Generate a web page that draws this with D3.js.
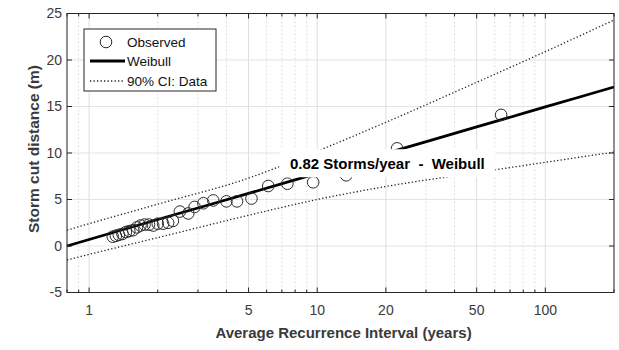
<!DOCTYPE html>
<html><head><meta charset="utf-8">
<script src="https://cdn.jsdelivr.net/npm/d3@7"></script>
<style>
html,body{margin:0;padding:0;background:#fff;}
svg{display:block;font-family:"Liberation Sans",Arial,sans-serif;}
</style></head>
<body><svg id="c" width="619" height="350"></svg>
<script>
// ---- data ----
const observedT = [64, 22.4, 13.4, 9.6, 7.4, 6.1, 5.15, 4.45, 4.0, 3.5, 3.17, 2.9, 2.72, 2.5, 2.33, 2.22, 2.11, 2.0, 1.91, 1.83, 1.75, 1.68, 1.62, 1.56, 1.50, 1.45, 1.40, 1.35, 1.31, 1.27];
const observedY = [14.1, 10.5, 7.6, 6.85, 6.7, 6.45, 5.1, 4.8, 4.8, 4.9, 4.6, 4.2, 3.5, 3.7, 2.7, 2.5, 2.4, 2.4, 2.2, 2.3, 2.3, 2.2, 2.0, 1.7, 1.6, 1.5, 1.3, 1.2, 1.1, 1.0];
const curveT = [0.8, 1, 2, 5, 10, 20, 50, 100, 200];
const weibullY = [0.0, 0.7, 2.85, 5.65, 7.8, 9.95, 12.8, 14.95, 17.1];
const ciUpperY = [1.7, 2.4, 4.5, 7.3, 10.2, 13.3, 17.6, 20.9, 24.3];
const ciLowerY = [-1.5, -0.9, 0.9, 3.3, 5.0, 6.4, 7.9, 9.0, 10.1];
const xTickLabels = [1, 5, 10, 20, 50, 100];
const xMinorTicks = [0.8, 0.9, 2, 3, 4, 6, 7, 8, 9, 30, 40, 60, 70, 80, 90, 200];
const yTicks = [-5, 0, 5, 10, 15, 20, 25];
const legendLabels = ["Observed", "Weibull", "90% CI: Data"];
const annotationText = "0.82 Storms/year  -  Weibull";
const xTitle = "Average Recurrence Interval (years)";
const yTitle = "Storm cut distance (m)";

// ---- layout ----
const L = 67, R = 614, T = 13.5, B = 292.5;
const svg = d3.select("#c");
const x = d3.scaleLog().domain([0.8, 200]).range([L, R]);
const y = d3.scaleLinear().domain([-5, 25]).range([B, T]);
const axisColor = "#262626";
const labelColor = "#3a3a3a";

// grid
const g = svg.append("g");
g.selectAll(".ygrid").data(yTicks).join("line")
  .attr("x1", L).attr("x2", R).attr("y1", d => y(d)).attr("y2", d => y(d))
  .attr("stroke", "#e3e3e3").attr("stroke-width", 1);
g.selectAll(".xminor").data(xMinorTicks).join("line")
  .attr("x1", d => x(d)).attr("x2", d => x(d)).attr("y1", T).attr("y2", B)
  .attr("stroke", "#e0e0e0").attr("stroke-width", 1).attr("stroke-dasharray", "2,2");
g.selectAll(".xmajor").data(xTickLabels).join("line")
  .attr("x1", d => x(d)).attr("x2", d => x(d)).attr("y1", T).attr("y2", B)
  .attr("stroke", "#dedede").attr("stroke-width", 1);

// CI lines & fit
const pts = ys => curveT.map((t, i) => [t, ys[i]]);
const line = d3.line().x(d => x(d[0])).y(d => y(d[1])).curve(d3.curveMonotoneX);
svg.append("path").attr("d", line(pts(ciUpperY))).attr("fill", "none")
  .attr("stroke", "#222").attr("stroke-width", 1.3).attr("stroke-dasharray", "1.3,2.2");
svg.append("path").attr("d", line(pts(ciLowerY))).attr("fill", "none")
  .attr("stroke", "#222").attr("stroke-width", 1.3).attr("stroke-dasharray", "1.3,2.2");
svg.append("path").attr("d", line(pts(weibullY))).attr("fill", "none")
  .attr("stroke", "#000").attr("stroke-width", 2.8);

// observed
svg.selectAll(".obs").data(observedT.map((t, i) => [t, observedY[i]])).join("circle")
  .attr("cx", d => x(d[0])).attr("cy", d => y(d[1])).attr("r", 5.8)
  .attr("fill", "none").attr("stroke", "#2a2a2a").attr("stroke-width", 1);

// annotation with white background (anchored in data coordinates)
const annAt = [20.3, 8.9];
const ann = svg.append("g").attr("transform", `translate(${x(annAt[0])},${y(annAt[1])})`);
ann.append("rect").attr("x", -108).attr("y", -14).attr("width", 216).attr("height", 28).attr("fill", "#fff");
ann.append("text").attr("text-anchor", "middle").attr("dy", "0.36em")
  .attr("font-size", 15).attr("font-weight", "bold").attr("fill", "#000")
  .style("white-space", "pre").text(annotationText);

// axes box
svg.append("rect").attr("x", L).attr("y", T).attr("width", R - L).attr("height", B - T)
  .attr("fill", "none").attr("stroke", axisColor).attr("stroke-width", 1);

// ticks (inward) on all four sides
const tk = svg.append("g").attr("stroke", axisColor).attr("stroke-width", 1);
xTickLabels.forEach(d => {
  tk.append("line").attr("x1", x(d)).attr("x2", x(d)).attr("y1", B).attr("y2", B - 5);
  tk.append("line").attr("x1", x(d)).attr("x2", x(d)).attr("y1", T).attr("y2", T + 5);
});
xMinorTicks.forEach(d => {
  tk.append("line").attr("x1", x(d)).attr("x2", x(d)).attr("y1", B).attr("y2", B - 3);
  tk.append("line").attr("x1", x(d)).attr("x2", x(d)).attr("y1", T).attr("y2", T + 3);
});
yTicks.forEach(d => {
  tk.append("line").attr("x1", L).attr("x2", L + 5).attr("y1", y(d)).attr("y2", y(d));
  tk.append("line").attr("x1", R).attr("x2", R - 5).attr("y1", y(d)).attr("y2", y(d));
});

// tick labels
svg.selectAll(".xl").data(xTickLabels).join("text")
  .attr("x", d => x(d)).attr("y", B + 22).attr("text-anchor", "middle")
  .attr("font-size", 14).attr("fill", labelColor).text(d => d);
svg.selectAll(".yl").data(yTicks).join("text")
  .attr("x", L - 5).attr("y", d => y(d)).attr("dy", "0.35em").attr("text-anchor", "end")
  .attr("font-size", 14).attr("fill", labelColor).text(d => d);

// titles
svg.append("text").attr("x", (L + R) / 2 + 3).attr("y", 337.5).attr("text-anchor", "middle")
  .attr("font-size", 15).attr("font-weight", "bold").attr("fill", labelColor).text(xTitle);
svg.append("text").attr("transform", `translate(38.5,${(T + B) / 2 - 4}) rotate(-90)`)
  .attr("text-anchor", "middle").attr("font-size", 15.5).attr("font-weight", "bold")
  .attr("fill", labelColor).text(yTitle);

// legend
const lg = svg.append("g").attr("transform", "translate(84,29)");
lg.append("rect").attr("width", 132).attr("height", 62).attr("fill", "#fff")
  .attr("stroke", axisColor).attr("stroke-width", 1);
const rowY = [13, 32, 52];
lg.append("circle").attr("cx", 22).attr("cy", rowY[0]).attr("r", 5.8)
  .attr("fill", "none").attr("stroke", "#2a2a2a");
lg.append("line").attr("x1", 6).attr("x2", 41).attr("y1", rowY[1]).attr("y2", rowY[1])
  .attr("stroke", "#000").attr("stroke-width", 2.8);
lg.append("line").attr("x1", 6).attr("x2", 41).attr("y1", rowY[2]).attr("y2", rowY[2])
  .attr("stroke", "#222").attr("stroke-width", 1.3).attr("stroke-dasharray", "1.3,2.2");
lg.selectAll(".lt").data(legendLabels).join("text")
  .attr("x", 43).attr("y", (d, i) => rowY[i]).attr("dy", "0.35em")
  .attr("font-size", 13.5).attr("fill", "#111").text(d => d);
</script></body></html>
